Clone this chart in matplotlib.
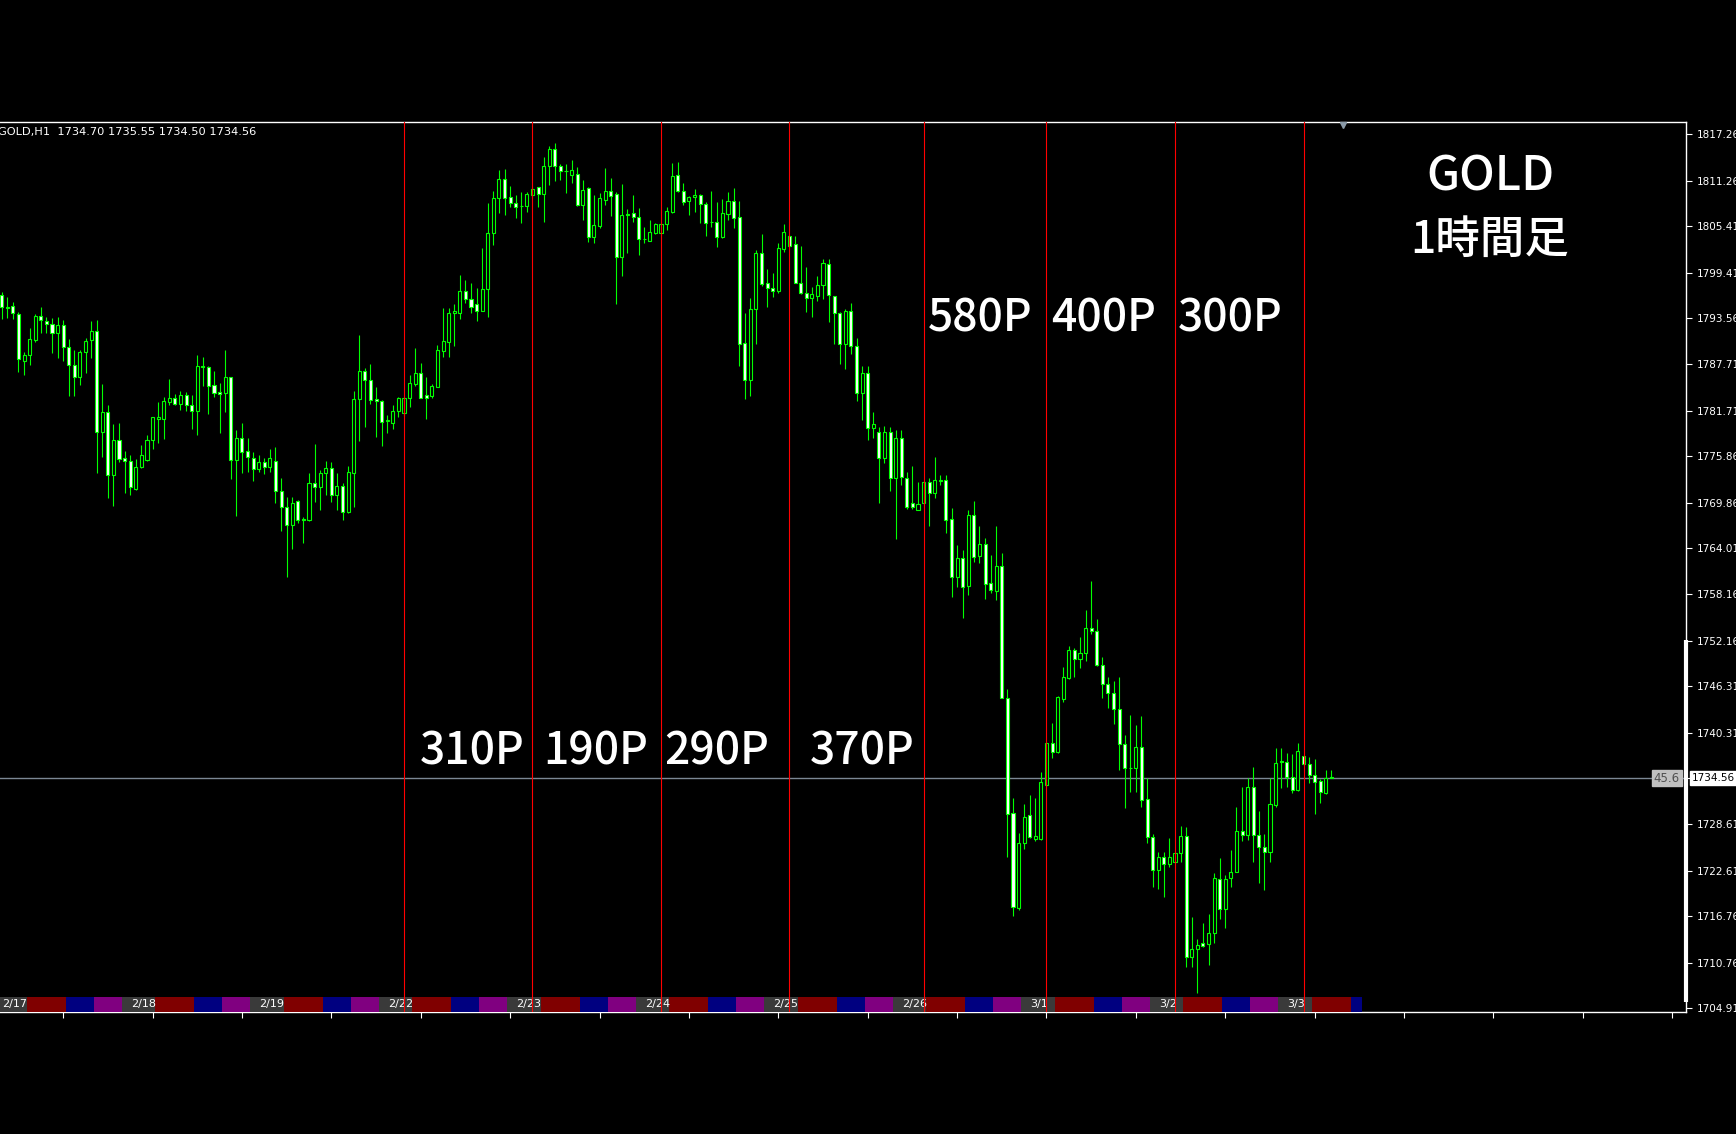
import matplotlib
matplotlib.use("Agg")
import matplotlib.pyplot as plt
import matplotlib.transforms as mtransforms
from matplotlib.patches import Rectangle

# GOLD H1 candles, 2/17 .. 3/3
opens = [
    1796.57, 1795.00, 1795.20, 1794.13, 1788.13, 1788.82, 1790.79, 1793.91, 1793.23, 1792.84,
    1791.64, 1792.67, 1789.93, 1787.62, 1785.99, 1789.25, 1790.79, 1791.94, 1779.01, 1781.58,
    1773.44, 1777.94, 1775.58, 1775.28, 1771.64, 1774.51, 1775.37, 1777.94, 1780.59, 1780.59,
    1782.86, 1783.38, 1782.56, 1783.72, 1782.43, 1781.71, 1787.45, 1787.28, 1784.96, 1784.11,
    1784.02, 1785.99, 1775.37, 1778.15, 1776.53, 1775.58, 1774.21, 1775.16, 1774.51, 1775.24,
    1771.39, 1769.37, 1767.02, 1770.10, 1767.75, 1767.66, 1772.37, 1771.86, 1773.66, 1774.39,
    1770.87, 1772.03, 1768.73, 1773.74, 1783.17, 1786.81, 1785.65, 1783.17, 1782.99, 1780.42,
    1780.08, 1781.71, 1781.37, 1783.38, 1785.14, 1786.59, 1783.72, 1783.59, 1784.71, 1789.42,
    1790.58, 1794.22, 1794.22, 1797.13, 1796.01, 1795.41, 1794.56, 1797.30, 1804.49, 1808.99,
    1811.47, 1809.12, 1808.43, 1808.01, 1808.01, 1809.42, 1810.40, 1809.55, 1813.14, 1815.29,
    1813.14, 1812.55, 1811.98, 1812.11, 1808.13, 1810.27, 1803.97, 1805.47, 1808.77, 1809.93,
    1809.54, 1801.40, 1806.97, 1807.06, 1806.63, 1803.72, 1803.55, 1804.49, 1804.57, 1805.69,
    1807.27, 1811.98, 1809.97, 1808.69, 1809.11, 1809.46, 1808.26, 1805.99, 1805.99, 1803.97,
    1806.97, 1808.64, 1806.63, 1790.36, 1785.64, 1794.77, 1802.00, 1798.06, 1797.51, 1797.08,
    1802.43, 1804.15, 1803.08, 1798.15, 1796.78, 1796.14, 1796.48, 1797.85, 1800.55, 1796.44,
    1794.30, 1790.27, 1794.50, 1790.00, 1784.00, 1786.50, 1779.50, 1779.00, 1775.59, 1779.00,
    1773.02, 1778.16, 1773.11, 1769.89, 1768.95, 1769.89, 1772.59, 1771.09, 1772.72, 1772.81,
    1767.75, 1760.39, 1762.74, 1759.19, 1768.31, 1763.04, 1764.58, 1759.53, 1758.59, 1761.76,
    1744.84, 1729.98, 1717.77, 1726.12, 1729.76, 1726.64, 1726.64, 1733.62, 1739.06, 1737.90,
    1744.63, 1747.33, 1750.96, 1749.77, 1750.54, 1753.75, 1753.45, 1749.04, 1746.60, 1745.48,
    1743.34, 1738.89, 1735.85, 1735.76, 1738.55, 1731.78, 1726.90, 1722.70, 1724.33, 1723.47,
    1723.77, 1724.84, 1727.07, 1711.57, 1712.51, 1713.28, 1713.20, 1714.65, 1721.50, 1717.65,
    1721.63, 1722.49, 1727.76, 1727.20, 1733.32, 1727.20, 1725.61, 1725.06, 1731.05, 1736.75,
    1736.53, 1734.61, 1732.98, 1737.35, 1736.32, 1734.91, 1734.18, 1732.56, 1734.70,
]
highs = [
    1797.00, 1796.27, 1795.71, 1794.43, 1789.29, 1792.29, 1794.13, 1795.07, 1793.70, 1793.57,
    1793.78, 1793.36, 1790.87, 1789.50, 1789.50, 1791.00, 1793.23, 1793.36, 1785.13, 1782.43,
    1780.00, 1780.17, 1776.57, 1776.01, 1775.45, 1777.30, 1778.58, 1780.94, 1782.86, 1783.42,
    1785.73, 1783.85, 1784.28, 1784.11, 1783.72, 1788.86, 1788.56, 1787.40, 1786.80, 1785.31,
    1789.50, 1786.10, 1779.22, 1780.17, 1778.15, 1776.44, 1776.01, 1775.58, 1776.78, 1777.08,
    1773.01, 1770.66, 1770.66, 1770.23, 1768.09, 1773.74, 1777.43, 1774.08, 1775.29, 1775.16,
    1773.66, 1772.46, 1774.60, 1784.28, 1791.43, 1787.15, 1787.71, 1784.79, 1783.10, 1781.15,
    1782.44, 1783.51, 1783.51, 1786.29, 1789.72, 1787.88, 1786.08, 1785.14, 1790.15, 1794.86,
    1794.86, 1795.41, 1799.14, 1798.50, 1798.07, 1797.43, 1802.57, 1808.35, 1809.98, 1812.63,
    1812.76, 1810.58, 1809.42, 1809.85, 1809.85, 1810.49, 1810.49, 1814.26, 1815.71, 1816.06,
    1813.40, 1813.40, 1813.91, 1813.05, 1811.34, 1810.40, 1809.41, 1809.63, 1812.84, 1811.55,
    1809.84, 1810.83, 1807.57, 1809.41, 1807.79, 1805.26, 1806.20, 1805.77, 1805.86, 1807.91,
    1813.48, 1813.70, 1811.00, 1809.28, 1810.14, 1809.54, 1808.56, 1809.93, 1808.56, 1808.86,
    1809.76, 1810.27, 1808.69, 1794.30, 1796.14, 1802.35, 1804.40, 1799.86, 1799.35, 1803.29,
    1805.69, 1804.28, 1804.15, 1802.86, 1800.12, 1797.64, 1799.01, 1801.15, 1801.15, 1796.50,
    1794.43, 1794.72, 1795.50, 1791.00, 1787.50, 1787.50, 1781.50, 1779.60, 1779.80, 1779.60,
    1779.20, 1779.23, 1773.88, 1774.60, 1772.59, 1772.72, 1773.02, 1775.72, 1773.45, 1773.45,
    1769.17, 1764.45, 1763.81, 1768.95, 1770.15, 1766.90, 1765.31, 1763.17, 1766.90, 1763.47,
    1745.91, 1731.90, 1727.41, 1731.18, 1732.33, 1731.90, 1735.33, 1739.19, 1741.63, 1745.05,
    1748.74, 1751.48, 1751.18, 1752.59, 1756.10, 1759.87, 1754.90, 1750.02, 1747.54, 1747.02,
    1747.54, 1740.04, 1742.62, 1741.33, 1742.49, 1734.48, 1727.33, 1725.06, 1725.06, 1726.77,
    1725.06, 1728.35, 1728.18, 1716.71, 1713.79, 1715.85, 1717.05, 1722.27, 1724.20, 1722.06,
    1725.27, 1730.84, 1733.41, 1734.48, 1735.98, 1730.32, 1727.33, 1734.48, 1738.33, 1738.33,
    1737.78, 1737.60, 1739.06, 1737.40, 1737.26, 1736.92, 1734.35, 1735.55, 1735.55,
]
lows = [
    1793.44, 1793.66, 1793.44, 1786.72, 1786.29, 1787.57, 1790.60, 1791.64, 1791.64, 1789.16,
    1788.43, 1788.13, 1783.59, 1783.59, 1785.00, 1786.50, 1788.43, 1773.74, 1775.71, 1770.53,
    1769.46, 1775.16, 1771.09, 1770.87, 1771.50, 1774.40, 1775.30, 1776.78, 1777.51, 1778.02,
    1782.43, 1782.43, 1781.79, 1781.71, 1779.31, 1778.58, 1784.88, 1781.28, 1783.42, 1778.80,
    1781.58, 1772.89, 1768.17, 1773.74, 1773.87, 1772.71, 1773.87, 1773.57, 1773.87, 1769.80,
    1766.29, 1760.38, 1763.89, 1767.23, 1764.75, 1767.58, 1770.02, 1768.95, 1770.87, 1770.02,
    1768.95, 1767.66, 1768.60, 1769.29, 1777.86, 1779.57, 1782.57, 1778.28, 1777.17, 1778.80,
    1779.31, 1780.94, 1781.02, 1782.14, 1784.88, 1783.29, 1780.60, 1783.29, 1784.71, 1788.65,
    1788.65, 1790.02, 1793.45, 1795.59, 1794.22, 1793.27, 1794.56, 1793.70, 1802.99, 1807.15,
    1806.85, 1807.83, 1806.42, 1805.86, 1807.28, 1809.08, 1807.83, 1805.99, 1810.70, 1811.26,
    1811.35, 1809.63, 1810.91, 1808.00, 1806.20, 1803.42, 1803.29, 1805.13, 1808.13, 1806.71,
    1795.41, 1799.01, 1802.00, 1805.99, 1801.70, 1803.20, 1803.50, 1804.40, 1804.49, 1804.92,
    1807.14, 1809.84, 1808.13, 1806.84, 1807.27, 1805.86, 1804.15, 1805.34, 1802.78, 1803.85,
    1806.20, 1805.13, 1787.49, 1783.25, 1783.59, 1790.27, 1797.72, 1794.98, 1796.35, 1796.87,
    1802.13, 1802.69, 1798.15, 1796.69, 1794.34, 1793.78, 1795.84, 1796.01, 1793.14, 1790.27,
    1787.70, 1787.02, 1789.00, 1783.00, 1780.50, 1778.00, 1778.20, 1769.89, 1775.00, 1771.44,
    1765.18, 1772.16, 1769.04, 1769.04, 1768.90, 1769.81, 1766.90, 1770.45, 1772.16, 1765.95,
    1757.82, 1759.10, 1755.03, 1758.03, 1762.31, 1762.19, 1757.47, 1758.24, 1757.39, 1744.75,
    1724.33, 1716.79, 1717.56, 1725.35, 1726.77, 1726.47, 1726.56, 1733.49, 1737.05, 1737.69,
    1744.33, 1747.20, 1747.45, 1748.61, 1749.59, 1753.02, 1748.91, 1744.75, 1743.47, 1741.46,
    1735.55, 1730.62, 1732.77, 1732.77, 1730.75, 1726.13, 1720.56, 1720.22, 1719.28, 1723.04,
    1723.64, 1723.77, 1710.28, 1710.20, 1706.94, 1712.77, 1710.50, 1713.37, 1716.36, 1715.21,
    1720.47, 1722.40, 1726.47, 1726.56, 1723.77, 1721.07, 1720.13, 1723.77, 1730.84, 1733.19,
    1733.32, 1732.55, 1732.89, 1736.19, 1733.92, 1729.90, 1731.27, 1732.50, 1734.50,
]
closes = [
    1794.98, 1794.90, 1794.21, 1788.30, 1788.86, 1790.87, 1793.91, 1793.36, 1792.84, 1791.73,
    1792.67, 1789.93, 1787.57, 1785.99, 1789.29, 1790.70, 1791.94, 1779.01, 1781.58, 1773.44,
    1777.94, 1775.45, 1775.24, 1771.86, 1774.51, 1776.01, 1777.94, 1780.85, 1780.85, 1782.99,
    1783.33, 1782.56, 1783.72, 1782.43, 1781.71, 1787.45, 1787.28, 1784.88, 1784.02, 1783.85,
    1785.99, 1775.37, 1778.15, 1776.44, 1775.71, 1774.17, 1775.07, 1774.51, 1775.58, 1771.43,
    1769.37, 1767.02, 1769.89, 1767.66, 1767.70, 1772.37, 1771.86, 1773.74, 1774.39, 1770.87,
    1772.03, 1768.73, 1773.87, 1783.17, 1786.81, 1785.65, 1783.08, 1782.91, 1780.21, 1780.50,
    1781.71, 1783.38, 1783.29, 1785.31, 1786.59, 1783.29, 1783.29, 1784.88, 1789.50, 1790.70,
    1794.30, 1794.52, 1797.13, 1796.01, 1795.07, 1794.56, 1797.30, 1804.49, 1808.99, 1811.47,
    1808.99, 1808.43, 1807.92, 1807.95, 1809.55, 1810.15, 1809.55, 1813.14, 1815.29, 1813.14,
    1812.55, 1812.50, 1812.62, 1808.13, 1810.06, 1804.06, 1805.56, 1808.98, 1809.93, 1809.28,
    1801.40, 1806.84, 1806.84, 1806.54, 1803.72, 1803.80, 1804.70, 1805.64, 1805.69, 1807.40,
    1811.85, 1809.97, 1808.56, 1809.20, 1809.41, 1808.26, 1805.86, 1805.90, 1804.06, 1807.06,
    1808.64, 1806.42, 1790.27, 1785.64, 1794.77, 1802.00, 1797.98, 1797.42, 1797.08, 1802.56,
    1804.70, 1802.86, 1798.15, 1796.87, 1796.22, 1796.65, 1797.85, 1800.72, 1796.56, 1794.21,
    1790.27, 1794.51, 1790.00, 1784.00, 1786.50, 1779.50, 1780.00, 1775.59, 1779.00, 1773.02,
    1778.16, 1773.23, 1769.38, 1769.38, 1769.72, 1772.59, 1771.09, 1772.81, 1772.81, 1767.67,
    1760.30, 1762.74, 1759.10, 1768.31, 1762.96, 1764.58, 1759.44, 1758.67, 1761.76, 1744.75,
    1729.89, 1717.90, 1726.12, 1729.55, 1726.98, 1727.07, 1734.05, 1739.06, 1737.90, 1744.88,
    1747.45, 1750.96, 1749.77, 1750.54, 1753.75, 1753.45, 1749.04, 1746.60, 1745.48, 1743.34,
    1738.89, 1735.76, 1735.76, 1738.55, 1731.69, 1726.90, 1722.70, 1724.41, 1723.47, 1724.41,
    1724.93, 1727.07, 1711.57, 1712.51, 1713.07, 1712.98, 1714.65, 1721.63, 1717.65, 1721.50,
    1722.49, 1727.76, 1727.20, 1733.32, 1727.20, 1725.61, 1725.06, 1731.18, 1736.41, 1736.53,
    1734.61, 1732.98, 1738.03, 1736.32, 1734.91, 1734.05, 1732.77, 1734.48, 1734.56,
]

# bar index of each red day line, and of each session block start
day_lines = [72, 95, 118, 141, 165, 187, 210, 233]
day_starts = [-1, 22, 45, 68, 91, 114, 137, 160, 183, 206, 229]
day_labels = ["2/17", "2/18", "2/19", "2/22", "2/23", "2/24", "2/25", "2/26", "3/1", "3/2", "3/3"]
session_colors = ["#3a3a3a", "#800000", "#000080", "#800080"]
session_bars = [6, 7, 5, 5]
session_end = 243.5

price_ticks = [1817.26, 1811.26, 1805.41, 1799.41, 1793.56, 1787.71, 1781.71, 1775.86,
               1769.86, 1764.01, 1758.16, 1752.16, 1746.31, 1740.31, 1734.56, 1728.61,
               1722.61, 1716.76, 1710.76, 1704.91]

pips_low = ["310P", "190P", "290P", "370P"]
pips_high = ["580P", "400P", "300P"]

W, H = 1736, 1134
fig = plt.figure(figsize=(W / 100, H / 100), dpi=100, facecolor="black")
ax = fig.add_axes([0, 1 - 1012 / H, 1686 / W, 890 / H], facecolor="black")

n = len(opens)
x = list(range(n))
ax.set_xlim(-0.304, 301.46)
ax.set_ylim(1704.46, 1818.80)

green = "#00ff00"
last = closes[-1]

# price line
ax.axhline(last, color="#7b8794", lw=1.0, zorder=1)

# candles
ax.vlines(x, lows, highs, color=green, lw=0.8, zorder=2)
bottoms = [min(o, c) for o, c in zip(opens, closes)]
heights = [abs(c - o) for o, c in zip(opens, closes)]
faces = ["black" if c > o else "white" for o, c in zip(opens, closes)]
ax.bar(x, heights, width=0.55, bottom=bottoms, color=faces,
       edgecolor=green, linewidth=0.8, zorder=3)

# session strip at the bottom
trans = mtransforms.blended_transform_factory(ax.transData, ax.transAxes)
strip_h = 15 / 890
for s, lab in zip(day_starts, day_labels):
    pos = s - 0.5
    for col, length in zip(session_colors, session_bars):
        if pos >= session_end:
            break
        w = min(length, session_end - pos)
        ax.add_patch(Rectangle((pos, 0), w, strip_h, transform=trans,
                               facecolor=col, edgecolor="none", zorder=3.5))
        pos += length
    ax.text(s + 1.1, strip_h / 2, lab, transform=trans, color="white",
            fontsize=8, va="center", ha="left", zorder=3.6)

# red day lines
for d in day_lines:
    ax.axvline(d, color="#ff0000", lw=0.8, zorder=4)

# axes frame and ticks
for side in ["top", "bottom", "right"]:
    ax.spines[side].set_color("white")
    ax.spines[side].set_linewidth(1.0)
ax.spines["left"].set_visible(False)

ax.yaxis.tick_right()
ax.set_yticks(price_ticks)
ax.set_yticklabels(["" if p == last else f"{p:.2f}" for p in price_ticks])
ax.tick_params(axis="y", colors="white", length=4, width=0.8, pad=4, labelsize=7.5)
ax.set_xticks(range(11, 302, 16))
ax.set_xticklabels([])
ax.tick_params(axis="x", colors="white", length=4, width=0.8)

# white scroll mark on the price scale
ytrans = mtransforms.blended_transform_factory(ax.transAxes, ax.transData)
ax.plot([1, 1], [1752.2, 1705.7], transform=ytrans, color="white", lw=3,
        solid_capstyle="butt", clip_on=False, zorder=6)

# chart shift marker
ax.plot([240], [1 - 3 / 890], transform=trans, marker="v", ms=5, color="#8a9aa8",
        clip_on=False, zorder=6)

# current price tag and spread box
fig.text(1692 / W, 1 - 778 / H, f"{last:.2f}", color="black", fontsize=7.5,
         ha="left", va="center",
         bbox=dict(facecolor="white", edgecolor="white", pad=1.2))
fig.text(1680 / W, 1 - 778 / H, "45.6", color="#505050", fontsize=8.5,
         ha="right", va="center",
         bbox=dict(facecolor="#c0c0c0", edgecolor="#c0c0c0", pad=1.2))

# header
fig.text(-2 / W, 1 - 132 / H,
         f"GOLD,H1  {opens[-1]:.2f} {highs[-1]:.2f} {lows[-1]:.2f} {closes[-1]:.2f}",
         color="white", fontsize=8.2, ha="left", va="center")

# annotations
jp = ["Noto Sans CJK JP", "DejaVu Sans"]
for lab, px in zip(pips_low, [472, 596, 717, 862]):
    fig.text(px / W, 1 - 752 / H, lab, color="white", fontsize=32, family=jp,
             weight="medium", ha="center", va="center")
for lab, px in zip(pips_high, [980, 1104, 1230]):
    fig.text(px / W, 1 - 319 / H, lab, color="white", fontsize=32, family=jp,
             weight="medium", ha="center", va="center")
fig.text(1490 / W, 1 - 177 / H, "GOLD", color="white", fontsize=34, family=jp,
         weight="medium", ha="center", va="center")
fig.text(1490 / W, 1 - 240 / H, "1時間足", color="white", fontsize=32, family=jp,
         weight="medium", ha="center", va="center")

fig.savefig("out.png", dpi=100, facecolor="black")
